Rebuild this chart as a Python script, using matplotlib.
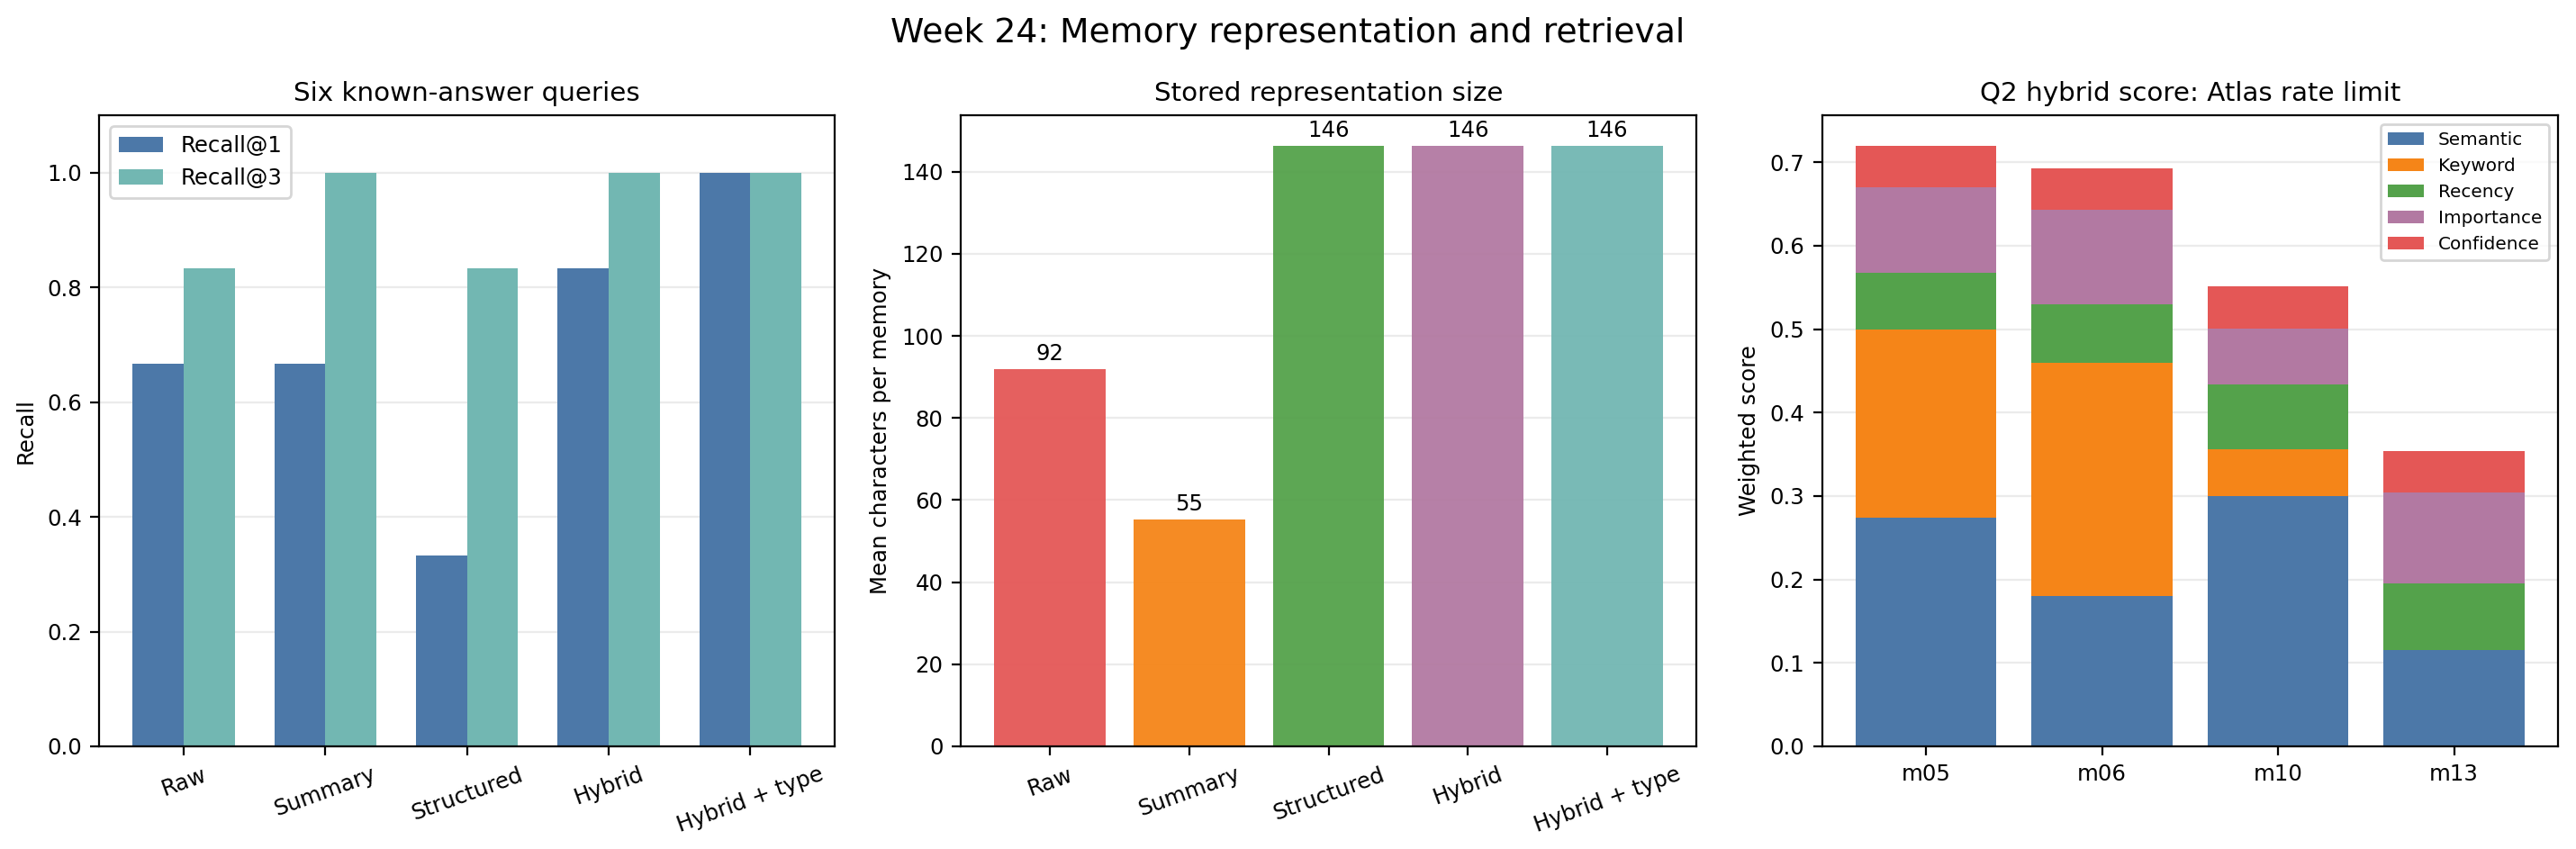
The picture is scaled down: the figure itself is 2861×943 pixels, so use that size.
import matplotlib
matplotlib.use("Agg")
import matplotlib.pyplot as plt
import numpy as np

# Panel 1: recall on six known-answer queries
methods = ["Raw", "Summary", "Structured", "Hybrid", "Hybrid + type"]
recall_at_1 = [4 / 6, 4 / 6, 2 / 6, 5 / 6, 1.0]
recall_at_3 = [5 / 6, 1.0, 5 / 6, 1.0, 1.0]

# Panel 2: mean stored characters per memory
mean_chars = [91.9, 55.3, 146.4, 146.4, 146.4]

# Panel 3: weighted hybrid score components for Q2
memories = ["m05", "m06", "m10", "m13"]
components = ["Semantic", "Keyword", "Recency", "Importance", "Confidence"]
semantic = [0.274, 0.180, 0.300, 0.115]
keyword = [0.226, 0.280, 0.056, 0.000]
recency = [0.067, 0.070, 0.078, 0.080]
importance = [0.103, 0.113, 0.067, 0.109]
confidence = [0.050, 0.050, 0.050, 0.050]

BLUE = "#4c78a8"
ORANGE = "#f58518"
GREEN = "#54a24b"
PURPLE = "#b279a2"
RED = "#e45756"
TEAL = "#72b7b2"

plt.rcParams["font.size"] = 8.8
plt.rcParams["axes.titlesize"] = 10.6

fig, axes = plt.subplots(1, 3, figsize=(14.305, 4.715), dpi=200)
fig.subplots_adjust(left=0.0385, right=0.993, top=0.864, bottom=0.121, wspace=0.171)

# Recall grouped bars
ax = axes[0]
x = np.arange(len(methods))
w = 0.36
ax.bar(x - w / 2, recall_at_1, w, color=BLUE, label="Recall@1")
ax.bar(x + w / 2, recall_at_3, w, color=TEAL, label="Recall@3")
ax.set_xticks(x)
ax.set_xticklabels(methods, rotation=20)
ax.set_ylim(0, 1.1)
ax.set_ylabel("Recall")
ax.set_title("Six known-answer queries")
ax.legend(loc="upper left")
ax.grid(axis="y", alpha=0.25)
ax.set_axisbelow(True)

# Representation size
ax = axes[1]
bars = ax.bar(methods, mean_chars, color=[RED, ORANGE, GREEN, PURPLE, TEAL], alpha=0.95)
for b in bars:
    h = b.get_height()
    ax.text(b.get_x() + b.get_width() / 2, h + 1, f"{h:.0f}", ha="center", va="bottom")
ax.set_xticks(range(len(methods)))
ax.set_xticklabels(methods, rotation=20)
ax.set_ylabel("Mean characters per memory")
ax.set_title("Stored representation size")
ax.grid(axis="y", alpha=0.25)
ax.set_axisbelow(True)

# Stacked score components
ax = axes[2]
stack = [semantic, keyword, recency, importance, confidence]
colors = [BLUE, ORANGE, GREEN, PURPLE, RED]
bottom = np.zeros(len(memories))
for name, vals, c in zip(components, stack, colors):
    ax.bar(memories, vals, bottom=bottom, color=c, label=name)
    bottom += np.array(vals)
ax.set_ylabel("Weighted score")
ax.set_title("Q2 hybrid score: Atlas rate limit")
ax.legend(loc="upper right", fontsize=7.2)
ax.grid(axis="y", alpha=0.25)
ax.set_axisbelow(True)

fig.suptitle("Week 24: Memory representation and retrieval", fontsize=13.6)
fig.savefig("out.png")
